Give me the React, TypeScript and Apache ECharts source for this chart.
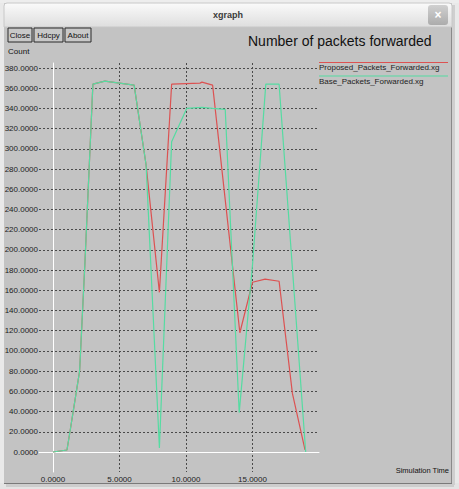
import React, { useEffect, useRef } from "react";
import * as echarts from "echarts";

// ---- data ----
const proposedTime = [0, 1.05, 1.3, 2.0, 2.4, 3.0, 3.9, 5.0, 6.1, 7.0, 8.0, 8.92, 11.05, 11.2, 12.0, 14.05, 15.0, 15.95, 17.0, 18.0, 18.95];
const proposedCount = [0, 2, 22, 80, 187, 364, 367, 365, 363, 284, 158, 364, 365, 366, 363, 118, 168, 171, 169, 58, 2];

const baseTime = [0, 1.05, 1.3, 2.0, 2.4, 3.0, 3.9, 5.0, 6.1, 7.0, 8.0, 8.92, 10.05, 11.2, 12.0, 12.95, 14.0, 15.0, 16.0, 17.0, 19.0];
const baseCount = [0, 2, 22, 80, 187, 364, 367, 365, 363, 284, 4, 307, 340, 341, 340, 339, 39, 185, 364, 364, 0];

const seriesNames = ["Proposed_Packets_Forwarded.xg", "Base_Packets_Forwarded.xg"];
const seriesColors = ["#dc5252", "#55dca2"];

const yMin = 0;
const yMax = 380;
const yStep = 20;
const xMin = 0;
const xMax = 20;
const xStep = 5;

const FONT = "'Liberation Sans', Arial, sans-serif";

export default function App() {
  const ref = useRef<HTMLDivElement>(null);

  useEffect(() => {
    if (!ref.current) return;
    const chart = echarts.init(ref.current, undefined, { renderer: "svg" });

    const pair = (xs: number[], ys: number[]) => xs.map((x, i) => [x, ys[i]]);
    const gridLine = { color: "#4a4a4a", width: 1, type: [2, 2] as number[] };

    // grid B (data) vertical mapping: 0 -> y=452, 380 -> y=68
    const pxPerUnit = 384 / 380;
    const bMax = yMax + 5 / pxPerUnit;
    const bMin = -20 / pxPerUnit;

    const button = (x: number, w: number, label: string) => ({
      type: "group",
      children: [
        { type: "rect", shape: { x, y: 28, width: w, height: 14 }, style: { fill: "#c8c8c8", stroke: "#2a2a2a", lineWidth: 1 } },
        { type: "text", x: x + w / 2, y: 35, style: { text: label, fontSize: 8, fontFamily: FONT, fill: "#111", align: "center", verticalAlign: "middle" } },
      ],
    });

    chart.setOption({
      animation: false,
      backgroundColor: "#c3c3c3",
      grid: [
        { left: 39, right: 140, top: 68, bottom: 37 },
        { left: 53, right: 140, top: 63, bottom: 17 },
      ],
      xAxis: [
        {
          type: "value", gridIndex: 0, min: 0, max: 1,
          axisLine: { show: true, onZero: false, lineStyle: { color: "#ffffff", width: 1 } },
          axisTick: { show: false }, axisLabel: { show: false }, splitLine: { show: false },
        },
        {
          type: "value", gridIndex: 1, min: xMin, max: xMax, interval: xStep,
          axisLine: { show: false }, axisTick: { show: false },
          axisLabel: {
            show: true, margin: 3, fontSize: 8, fontFamily: FONT, color: "#222",
            formatter: (v: number) => (v >= xMax ? "" : v.toFixed(4)),
          },
          splitLine: { show: true, showMinLine: false, showMaxLine: false, lineStyle: gridLine },
        },
      ],
      yAxis: [
        {
          type: "value", gridIndex: 0, min: yMin, max: yMax, interval: yStep,
          axisLine: { show: false }, axisTick: { show: false },
          axisLabel: { show: true, margin: 1, fontSize: 8, fontFamily: FONT, color: "#222", formatter: (v: number) => v.toFixed(4) },
          splitLine: { show: true, showMinLine: false, lineStyle: gridLine },
        },
        {
          type: "value", gridIndex: 1, min: bMin, max: bMax,
          axisLine: { show: true, onZero: false, lineStyle: { color: "#ffffff", width: 1 } },
          axisTick: { show: false }, axisLabel: { show: false }, splitLine: { show: false },
        },
      ],
      series: [
        {
          type: "line", name: seriesNames[0], xAxisIndex: 1, yAxisIndex: 1,
          data: pair(proposedTime, proposedCount), symbol: "none",
          lineStyle: { color: seriesColors[0], width: 1.2 }, z: 3,
        },
        {
          type: "line", name: seriesNames[1], xAxisIndex: 1, yAxisIndex: 1,
          data: pair(baseTime, baseCount), symbol: "none",
          lineStyle: { color: seriesColors[1], width: 1.2 }, z: 4,
        },
      ],
      graphic: [
        // outside of window
        { type: "rect", shape: { x: 0, y: 0, width: 4, height: 489 }, style: { fill: "#e9e9e9" } },
        { type: "rect", shape: { x: 452, y: 0, width: 7, height: 489 }, style: { fill: "#e9e9e9" } },
        { type: "rect", shape: { x: 0, y: 483, width: 459, height: 6 }, style: { fill: "#e4e4e4" } },
        { type: "rect", shape: { x: 0, y: 0, width: 459, height: 3 }, style: { fill: "#ededed" } },
        { type: "line", shape: { x1: 451.5, y1: 27, x2: 451.5, y2: 483 }, style: { stroke: "#8a8a8a", lineWidth: 1 } },
        { type: "line", shape: { x1: 4, y1: 483.5, x2: 452, y2: 483.5 }, style: { stroke: "#7a7a7a", lineWidth: 1 } },
        { type: "rect", shape: { x: 452, y: 5, width: 3, height: 480 }, style: { fill: "#cfcfcf" } },
        { type: "rect", shape: { x: 6, y: 484, width: 448, height: 3 }, style: { fill: "#cdcdcd" } },
        // title bar
        {
          type: "rect", shape: { x: 4, y: 3, width: 448, height: 24, r: [3, 3, 0, 0] },
          style: {
            fill: new echarts.graphic.LinearGradient(0, 0, 0, 1, [
              { offset: 0, color: "#fafafa" },
              { offset: 1, color: "#dedede" },
            ]),
            stroke: "#c8c8c8", lineWidth: 1,
          },
        },
        { type: "text", x: 228, y: 15, style: { text: "xgraph", fontSize: 9, fontWeight: "bold", fontFamily: FONT, fill: "#3a3a3a", align: "center", verticalAlign: "middle" } },
        {
          type: "rect", shape: { x: 428, y: 5, width: 20, height: 20, r: 3 },
          style: {
            fill: new echarts.graphic.LinearGradient(0, 0, 0, 1, [
              { offset: 0, color: "#d0d0d0" },
              { offset: 1, color: "#acacac" },
            ]),
          },
        },
        { type: "text", x: 438, y: 15, style: { text: "×", fontSize: 12, fontWeight: "bold", fontFamily: FONT, fill: "#ffffff", align: "center", verticalAlign: "middle" } },
        // buttons
        button(8, 24, "Close"),
        button(34, 29, "Hdcpy"),
        button(65, 26, "About"),
        // labels
        { type: "text", x: 8, y: 51, style: { text: "Count", fontSize: 8, fontFamily: FONT, fill: "#111", verticalAlign: "middle" } },
        { type: "text", x: 248, y: 41, style: { text: "Number of packets forwarded", fontSize: 14, fontFamily: FONT, fill: "#111", verticalAlign: "middle" } },
        { type: "text", x: 449, y: 470, style: { text: "Simulation Time", fontSize: 7.5, fontFamily: FONT, fill: "#111", align: "right", verticalAlign: "middle" } },
        // legend
        { type: "line", shape: { x1: 319, y1: 62.5, x2: 448, y2: 62.5 }, style: { stroke: seriesColors[0], lineWidth: 1.2 } },
        { type: "text", x: 319, y: 67.5, style: { text: seriesNames[0], fontSize: 8, fontFamily: FONT, fill: "#222", verticalAlign: "middle" } },
        { type: "line", shape: { x1: 319, y1: 76, x2: 448, y2: 76 }, style: { stroke: seriesColors[1], lineWidth: 1.2 } },
        { type: "text", x: 319, y: 81.5, style: { text: seriesNames[1], fontSize: 8, fontFamily: FONT, fill: "#222", verticalAlign: "middle" } },
      ],
    });

    return () => chart.dispose();
  }, []);

  return (
    <div
      ref={ref}
      style={{ position: "fixed", left: 0, top: 0, width: 459, height: 489 }}
    />
  );
}
